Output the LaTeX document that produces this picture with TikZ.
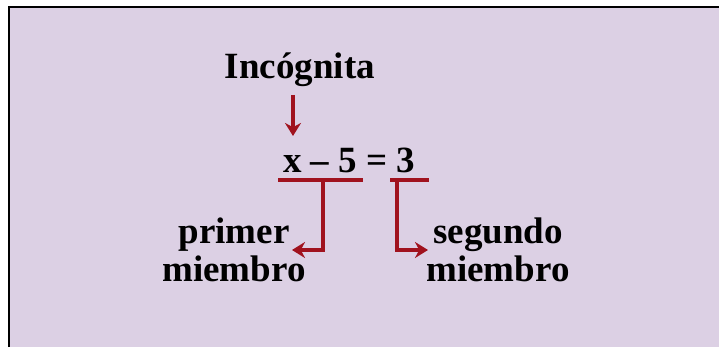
\documentclass[tikz,border=0pt]{standalone}
\usepackage{fontspec}
\setmainfont{Liberation Serif}
\usetikzlibrary{arrows.meta}

\definecolor{panel}{RGB}{220,208,228}
\definecolor{mark}{RGB}{160,18,30}

\tikzset{
  word/.style={inner sep=0pt, font=\fontsize{37}{38}\selectfont\bfseries, text=black},
  redline/.style={draw=mark, line width=3.2pt},
}

\begin{document}
\begin{tikzpicture}[x=1pt, y=-1pt, line cap=butt, line join=miter, >={Stealth[length=13pt,width=16pt]}]
  \useasboundingbox (0,0) rectangle (724,350);
  % panel with dark edge on the left and top
  \fill[panel] (9,7) rectangle (719,347);
  \draw[black, line width=2.5pt] (9,347) -- (9,7) -- (719,7);

  % labels
  \node[word] (inc) at (300,70) {Incógnita};
  \node[word, anchor=base west] (eq) at (283,173) {x – 5 = 3};
  \node[word, align=center] (pm) at (234,250) {primer\\miembro};
  \node[word, align=center] (sm) at (498,250) {segundo\\miembro};

  % marks under the two sides
  \coordinate (l1) at (278,180);
  \coordinate (l2) at (363,180);
  \coordinate (r1) at (390,180);
  \coordinate (r2) at (429,180);
  \coordinate (lt) at (323,180);
  \coordinate (rt) at (397,180);
  \coordinate (ltip) at (292,250);
  \coordinate (rtip) at (428,250);
  \coordinate (itop) at (293,95);
  \coordinate (ibot) at (293,136);

  \draw[redline, ->] (itop) -- (ibot);
  \draw[redline] (l1) -- (l2);
  \draw[redline] (r1) -- (r2);
  \draw[redline, ->] (lt) |- (ltip);
  \draw[redline, ->] (rt) |- (rtip);
\end{tikzpicture}
\end{document}
